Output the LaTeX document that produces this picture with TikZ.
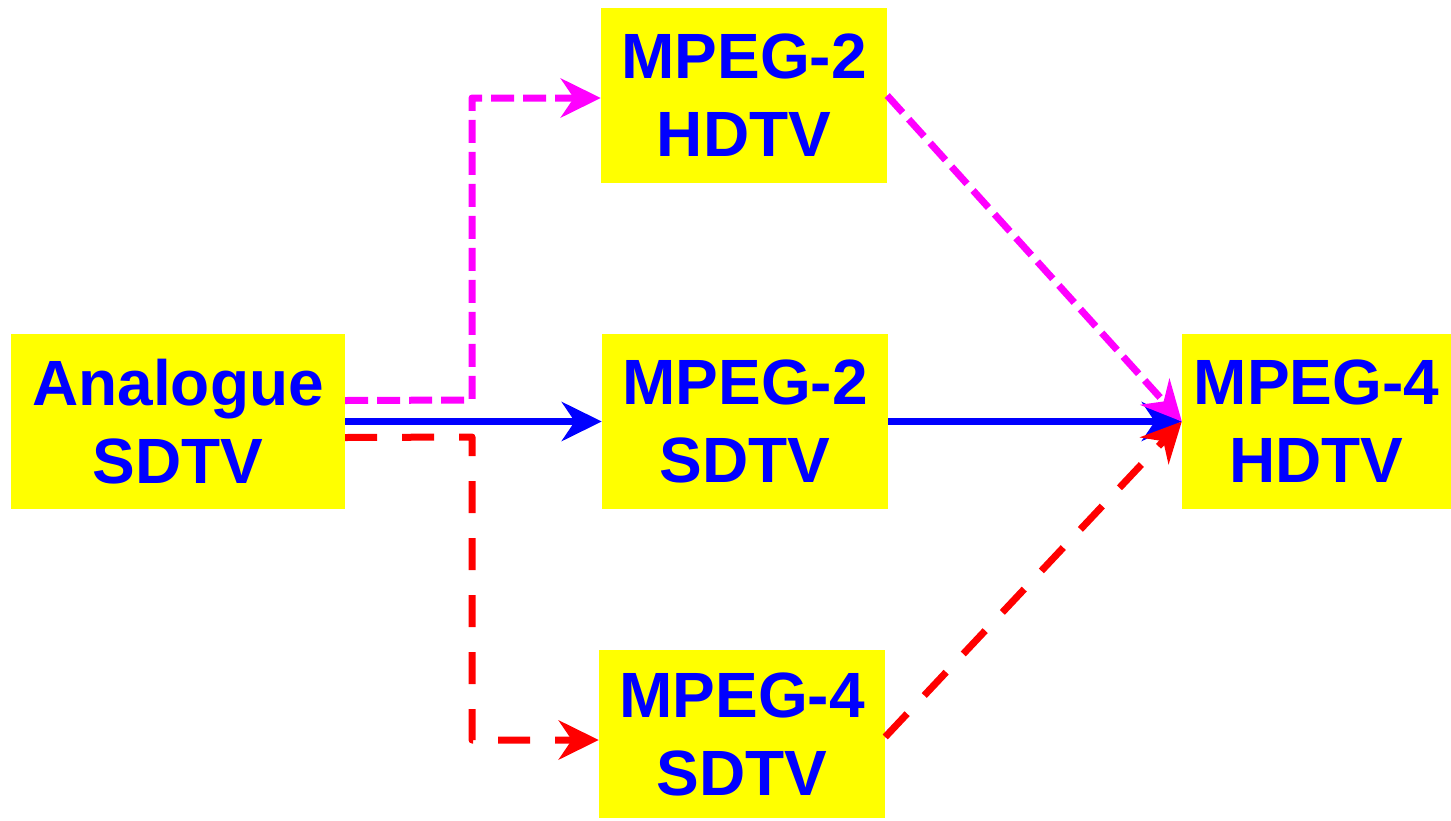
\documentclass[tikz,border=0pt]{standalone}
\usepackage{fontspec}
\setmainfont{Liberation Sans}
\usetikzlibrary{arrows.meta}
\definecolor{boxyellow}{RGB}{255,255,0}
\definecolor{txtblue}{RGB}{0,0,255}
\definecolor{lnmag}{RGB}{255,0,255}
\definecolor{lnred}{RGB}{255,0,0}
\begin{document}
\begin{tikzpicture}[x=1pt,y=-1pt,
  box/.style={fill=boxyellow,draw=none,inner sep=0pt,align=center,
    text=txtblue,font=\fontsize{64}{78}\selectfont\bfseries},
  tip/.style={-{Stealth[length=40pt,width=39pt,inset=13pt]}},
  bluearrow/.style={tip,draw=txtblue,line width=7pt},
  magline/.style={draw=lnmag,line width=7pt,dash pattern=on 23pt off 9pt},
  redline/.style={draw=lnred,line width=7pt,dash pattern=on 32pt off 25pt}
]
\useasboundingbox (0,0) rectangle (1451,820);
\node[box,minimum width=334pt,minimum height=175pt] (ana) at (178,421.5) {Analogue\\SDTV};
\node[box,minimum width=286pt,minimum height=175pt] (m2h) at (744,95.5) {MPEG-2\\HDTV};
\node[box,minimum width=286pt,minimum height=175pt] (m2s) at (745,421.5) {MPEG-2\\SDTV};
\node[box,minimum width=286pt,minimum height=168pt] (m4s) at (742,734) {MPEG-4\\SDTV};
\node[box,minimum width=269pt,minimum height=175pt] (m4h) at (1316.5,421.5) {MPEG-4\\HDTV};
% blue
\draw[bluearrow] (ana.east) -- (m2s.west);
\draw[bluearrow] (m2s.east) -- (m4h.west);
% magenta
\coordinate (mstart) at ([yshift=21pt]ana.east);
\coordinate (mcorner) at (472,400);
\coordinate (mend) at ([yshift=-2.5pt]m2h.west);
\draw[magline,tip,line join=round] (mstart) -- (mcorner) |- (mend);
\draw[magline,tip] (m2h.east) -- (m4h.west);
% red
\coordinate (rstart) at ([yshift=-16pt]ana.east);
\coordinate (rcorner) at (472,437);
\coordinate (rend) at ([yshift=-6pt]m4s.west);
\draw[redline,tip,line join=round] (rstart) -- (rcorner) |- (rend);
\draw[redline,tip] ([yshift=-3pt]m4s.east) -- (m4h.west);
\end{tikzpicture}
\end{document}
